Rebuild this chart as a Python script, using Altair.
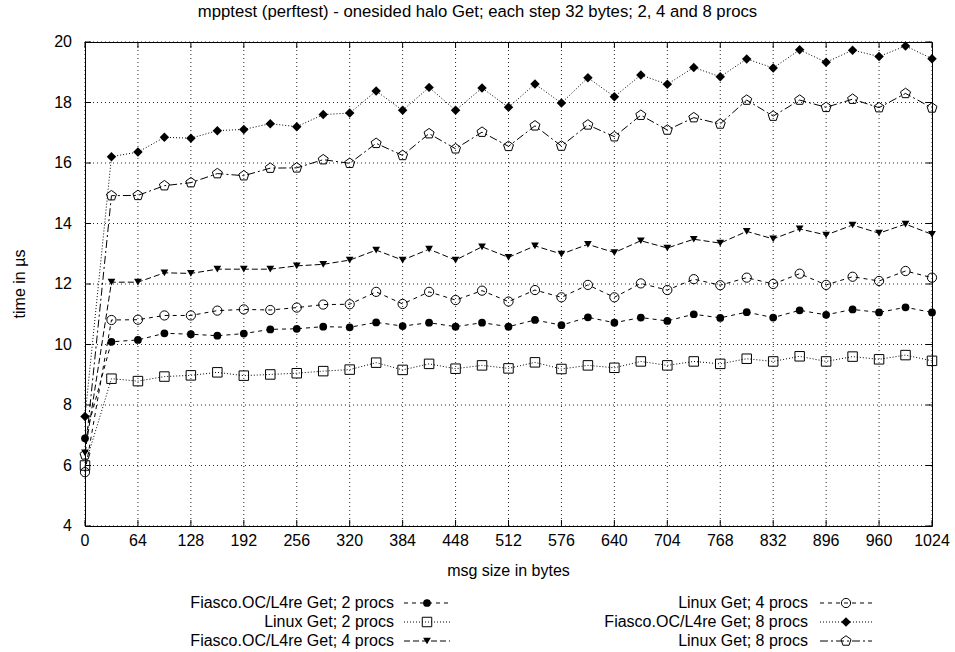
import altair as alt
import pandas as pd

# ---------------- data ----------------
x_bytes = [0, 32, 64, 96, 128, 160, 192, 224, 256, 288, 320, 352, 384, 416, 448, 480,
           512, 544, 576, 608, 640, 672, 704, 736, 768, 800, 832, 864, 896, 928, 960,
           992, 1024]

series_names = [
    "Fiasco.OC/L4re Get; 2 procs",
    "Linux Get; 2 procs",
    "Fiasco.OC/L4re Get; 4 procs",
    "Linux Get; 4 procs",
    "Fiasco.OC/L4re Get; 8 procs",
    "Linux Get; 8 procs",
]

fiasco_2 = [6.90, 10.09, 10.15, 10.37, 10.34, 10.29, 10.36, 10.50, 10.52, 10.59, 10.57,
            10.73, 10.61, 10.72, 10.59, 10.72, 10.59, 10.81, 10.64, 10.90, 10.72, 10.89,
            10.78, 11.00, 10.88, 11.07, 10.89, 11.13, 10.98, 11.16, 11.06, 11.23, 11.06]
linux_2 = [6.00, 8.87, 8.79, 8.94, 8.98, 9.08, 8.97, 9.01, 9.05, 9.12, 9.17,
           9.40, 9.16, 9.36, 9.20, 9.31, 9.21, 9.41, 9.19, 9.31, 9.23, 9.44,
           9.31, 9.44, 9.36, 9.53, 9.44, 9.61, 9.44, 9.60, 9.51, 9.65, 9.46]
fiasco_4 = [6.42, 12.06, 12.06, 12.37, 12.35, 12.49, 12.49, 12.49, 12.60, 12.65, 12.79,
            13.12, 12.79, 13.15, 12.79, 13.23, 12.88, 13.26, 12.99, 13.31, 13.04, 13.43,
            13.19, 13.48, 13.35, 13.74, 13.49, 13.82, 13.62, 13.95, 13.68, 13.98, 13.64]
linux_4 = [5.78, 10.81, 10.82, 10.96, 10.96, 11.12, 11.16, 11.14, 11.22, 11.32, 11.33,
           11.74, 11.34, 11.74, 11.47, 11.78, 11.42, 11.80, 11.56, 11.97, 11.56, 12.02,
           11.80, 12.16, 11.96, 12.21, 12.00, 12.34, 11.97, 12.24, 12.10, 12.43, 12.21]
fiasco_8 = [7.62, 16.21, 16.36, 16.85, 16.82, 17.07, 17.11, 17.30, 17.20, 17.60, 17.65,
            18.38, 17.74, 18.50, 17.74, 18.48, 17.84, 18.61, 17.98, 18.82, 18.19, 18.91,
            18.60, 19.16, 18.85, 19.44, 19.14, 19.74, 19.33, 19.73, 19.52, 19.87, 19.45]
linux_8 = [6.35, 14.92, 14.93, 15.25, 15.35, 15.65, 15.58, 15.83, 15.84, 16.11, 15.99,
           16.65, 16.25, 16.97, 16.47, 17.02, 16.55, 17.23, 16.56, 17.26, 16.87, 17.58,
           17.09, 17.50, 17.29, 18.08, 17.55, 18.08, 17.84, 18.11, 17.83, 18.30, 17.82]

series_values = [fiasco_2, linux_2, fiasco_4, linux_4, fiasco_8, linux_8]

x_ticks = [0, 64, 128, 192, 256, 320, 384, 448, 512, 576, 640, 704, 768, 832, 896, 960, 1024]
y_ticks = [4, 6, 8, 10, 12, 14, 16, 18, 20]

title_text = "mpptest (perftest) - onesided halo Get; each step 32 bytes; 2, 4 and 8 procs"
x_title = "msg size in bytes"
y_title = "time in µs"

# ---------------- styling ----------------
FONT = "Liberation Sans"
FS = 16
W, H = 847, 484
PENTAGON = "M0,-1L0.951,-0.309L0.588,0.809L-0.588,0.809L-0.951,-0.309Z"

styles = [
    dict(dash=[4, 4], shape="circle", filled=True, size=60),
    dict(dash=[1, 2], shape="square", filled=False, size=90),
    dict(dash=[6, 3], shape="triangle-down", filled=True, size=60),
    dict(dash=[4, 4], shape="circle", filled=False, size=85),
    dict(dash=[1, 2], shape="diamond", filled=True, size=90),
    dict(dash=[8, 3, 2, 3], shape=PENTAGON, filled=False, size=110),
]

xs = alt.Scale(domain=[0, 1024], nice=False, zero=False)
ys = alt.Scale(domain=[4, 20], nice=False, zero=False)

rows = []
for name, vals in zip(series_names, series_values):
    for xb, v in zip(x_bytes, vals):
        rows.append({"series": name, "bytes": xb, "time": v})
df = pd.DataFrame(rows)

xt = alt.Chart(pd.DataFrame({"bytes": x_ticks}))
yt = alt.Chart(pd.DataFrame({"time": y_ticks}))
XE = alt.X("bytes:Q", scale=xs, axis=None)
YE = alt.Y("time:Q", scale=ys, axis=None)

layers = []

# dotted grid
layers.append(xt.mark_rule(color="black", strokeWidth=1, strokeDash=[1, 3], opacity=0.85).encode(
    x=XE, y=alt.value(0), y2=alt.value(H)))
layers.append(yt.mark_rule(color="black", strokeWidth=1, strokeDash=[1, 3], opacity=0.85).encode(
    y=YE, x=alt.value(0), x2=alt.value(W)))

# inward ticks on all four borders
layers.append(xt.mark_rule(color="black", strokeWidth=1).encode(
    x=XE, y=alt.value(H), y2=alt.value(H - 6)))
layers.append(xt.mark_rule(color="black", strokeWidth=1).encode(
    x=XE, y=alt.value(0), y2=alt.value(6)))
layers.append(yt.mark_rule(color="black", strokeWidth=1).encode(
    y=YE, x=alt.value(0), x2=alt.value(6)))
layers.append(yt.mark_rule(color="black", strokeWidth=1).encode(
    y=YE, x=alt.value(W), x2=alt.value(W - 6)))

# tick labels
layers.append(xt.mark_text(align="center", baseline="middle", font=FONT, fontSize=FS,
                           color="black").encode(
    x=XE, y=alt.value(H + 15), text="bytes:Q"))
layers.append(yt.mark_text(align="right", baseline="middle", font=FONT, fontSize=FS,
                           color="black").encode(
    y=YE, x=alt.value(-13), text="time:Q"))

# axis titles and chart title (title centred on the whole canvas, as gnuplot did)
lab = alt.Chart(pd.DataFrame({"t": [x_title]}))
layers.append(lab.mark_text(align="center", baseline="middle", font=FONT, fontSize=FS,
                            color="black").encode(
    x=alt.value(W / 2), y=alt.value(H + 45), text="t:N"))
lab = alt.Chart(pd.DataFrame({"t": [y_title]}))
layers.append(lab.mark_text(align="center", baseline="middle", font=FONT, fontSize=FS,
                            color="black", angle=270).encode(
    x=alt.value(-65), y=alt.value(H / 2), text="t:N"))
lab = alt.Chart(pd.DataFrame({"t": [title_text]}))
layers.append(lab.mark_text(align="center", baseline="middle", font=FONT, fontSize=16.7,
                            color="black").encode(
    x=alt.value(392.5), y=alt.value(-30), text="t:N"))

# series
for name, st in zip(series_names, styles):
    d = df[df["series"] == name]
    base = alt.Chart(d)
    layers.append(base.mark_line(color="black", strokeWidth=1, strokeDash=st["dash"]).encode(
        x=XE, y=YE))
    layers.append(base.mark_point(shape=st["shape"], filled=st["filled"], color="black",
                                  size=st["size"], strokeWidth=1, opacity=1).encode(
        x=XE, y=YE))

# legend (gnuplot style: label, then line sample with marker), two columns of three
text_right = [309, 723]
sample_x = [(319, 365), (735, 787)]
row_y = [561, 580, 599]
for i, (name, st) in enumerate(zip(series_names, styles)):
    col, row = i // 3, i % 3
    ld = alt.Chart(pd.DataFrame({"series": [name]}))
    yy = row_y[row]
    x1, x2 = sample_x[col]
    layers.append(ld.mark_text(align="right", baseline="middle", font=FONT, fontSize=FS,
                               color="black").encode(
        x=alt.value(text_right[col]), y=alt.value(yy), text="series:N"))
    layers.append(ld.mark_rule(color="black", strokeWidth=1, strokeDash=st["dash"]).encode(
        x=alt.value(x1), x2=alt.value(x2), y=alt.value(yy)))
    layers.append(ld.mark_point(shape=st["shape"], filled=st["filled"], color="black",
                                size=st["size"], strokeWidth=1, opacity=1).encode(
        x=alt.value((x1 + x2) / 2), y=alt.value(yy)))

chart = alt.layer(*layers).properties(
    width=W, height=H,
    background="white",
    autosize=alt.AutoSizeParams(type="none"),
    padding={"left": 85, "top": 42, "right": 23, "bottom": 126},
).configure_view(stroke="black", strokeWidth=1)

chart.save("out.html", embed_options={"renderer": "svg", "actions": False})
